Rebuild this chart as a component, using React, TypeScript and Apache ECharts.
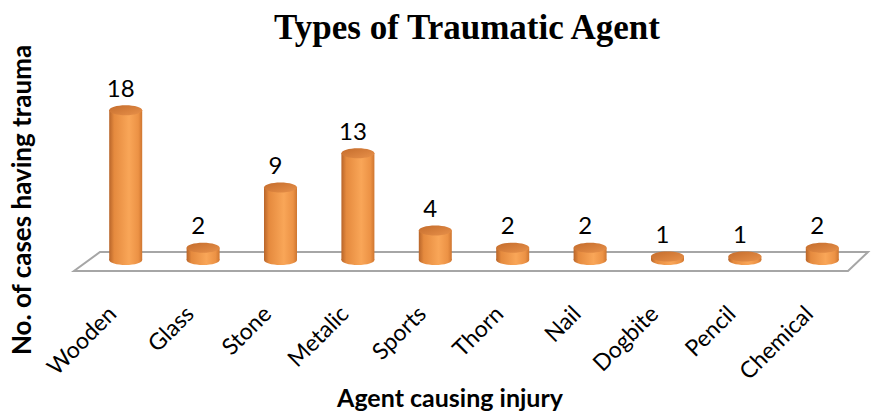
import React, { useEffect, useRef } from "react";
import * as echarts from "echarts";

const categories = ["Wooden", "Glass", "Stone", "Metalic", "Sports", "Thorn", "Nail", "Dogbite", "Pencil", "Chemical"];
const cases = [18, 2, 9, 13, 4, 2, 2, 1, 1, 2];
const chartTitle = "Types of Traumatic Agent";
const xTitle = "Agent causing injury";
const yTitle = "No. of cases having trauma";

export default function App() {
  const ref = useRef<HTMLDivElement>(null);
  useEffect(() => {
    const chart = echarts.init(ref.current!, null, { renderer: "svg" });
    const sideGrad = new echarts.graphic.LinearGradient(0, 0, 1, 0, [
      { offset: 0, color: "#b8652a" },
      { offset: 0.15, color: "#e58a3e" },
      { offset: 0.6, color: "#f9a658" },
      { offset: 0.88, color: "#ec9245" },
      { offset: 1, color: "#cf7630" },
    ]);
    const topGrad = new echarts.graphic.LinearGradient(0, 0, 1, 1, [
      { offset: 0, color: "#c46c2c" },
      { offset: 1, color: "#e8914a" },
    ]);
    const font = "Lato";
    chart.setOption({
      animation: false,
      grid: { left: 87, right: 11, top: 93, bottom: 148 },
      xAxis: {
        type: "category",
        data: categories,
        boundaryGap: true,
        axisLine: { show: false },
        axisTick: { show: false },
        splitLine: { show: false },
        axisLabel: {
          interval: 0,
          rotate: 45,
          margin: 30,
          padding: [0, 20, 0, 0],
          fontSize: 23,
          fontFamily: font,
          color: "#000",
        },
      },
      yAxis: { type: "value", min: 0, max: 20, show: false },
      graphic: [
        {
          type: "polygon",
          z: 0,
          shape: { points: [[100, 252], [868, 252], [848, 271], [74, 271]] },
          style: { fill: "#ffffff", stroke: "#a6a6a6", lineWidth: 2 },
        },
        {
          type: "text",
          x: 467,
          y: 27,
          style: { text: chartTitle, align: "center", verticalAlign: "middle", font: 'bold 35px "Liberation Serif"', fill: "#000" },
        },
        {
          type: "text",
          x: 450,
          y: 397,
          style: { text: xTitle, align: "center", verticalAlign: "middle", font: "bold 25px Lato", fill: "#000" },
        },
        {
          type: "text",
          x: 21,
          y: 200,
          rotation: Math.PI / 2,
          style: { text: yTitle, align: "center", verticalAlign: "middle", font: "bold 26px Lato", fill: "#000" },
        },
      ],
      series: [
        {
          type: "custom",
          z: 5,
          data: categories.map((c, i) => [i, cases[i]]),
          encode: { x: 0, y: 1 },
          renderItem: (params: any, api: any) => {
            const idx = api.value(0);
            const v = api.value(1);
            const top = api.coord([idx, v]);
            const base = api.coord([idx, 0]);
            const w = 33;
            const rx = w / 2;
            const ry = 5;
            const cx = top[0];
            const by = base[1] - ry;
            const ty = top[1];
            return {
              type: "group",
              children: [
                { type: "ellipse", shape: { cx, cy: by, rx, ry }, style: { fill: sideGrad } },
                { type: "rect", shape: { x: cx - rx, y: ty, width: w, height: Math.max(0, by - ty) }, style: { fill: sideGrad } },
                { type: "ellipse", shape: { cx, cy: ty, rx, ry }, style: { fill: topGrad } },
                {
                  type: "text",
                  x: cx - 5,
                  y: ty - 23,
                  style: { text: String(v), align: "center", verticalAlign: "middle", fontSize: 24, fontFamily: font, fill: "#000" },
                },
              ],
            };
          },
        },
      ],
    });
    return () => chart.dispose();
  }, []);
  return <div ref={ref} style={{ position: "absolute", left: 0, top: 0, width: 872, height: 413 }} />;
}
